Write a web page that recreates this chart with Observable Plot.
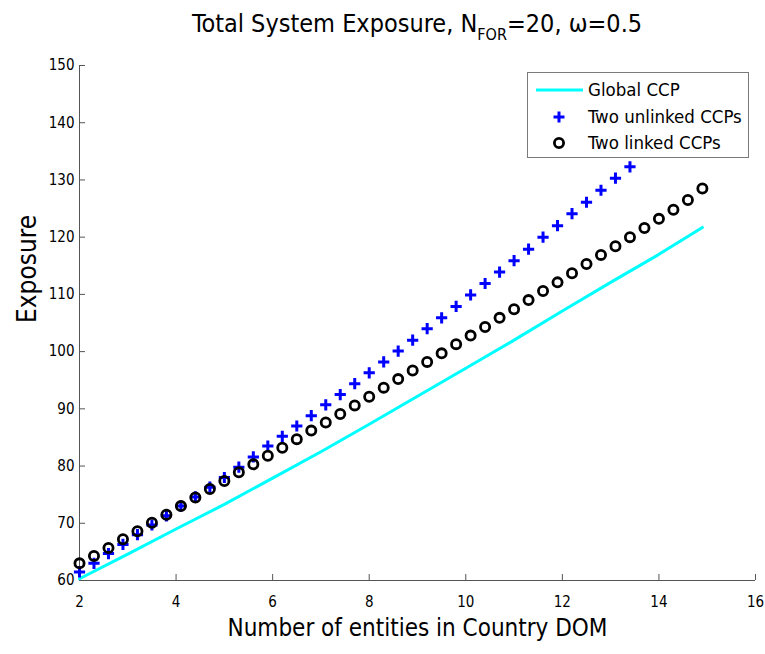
<!DOCTYPE html>
<html>
<head>
<meta charset="utf-8">
<script src="https://cdn.jsdelivr.net/npm/d3@7"></script>
<script src="https://cdn.jsdelivr.net/npm/@observablehq/plot@0.6"></script>
<style>
  body { margin: 0; background: #fff; }
  #wrap { position: relative; width: 765px; height: 654px; font-family: "Liberation Sans Narrow", "DejaVu Sans Condensed", "Liberation Sans", sans-serif; }
  #title { position: absolute; left: 79px; width: 676px; top: 9px; text-align: center; font-size: 25px; color: #000; white-space: nowrap; }
  #title sub { font-size: 16px; vertical-align: -8px; line-height: 0; }
  #legend { position: absolute; left: 527px; top: 72px; width: 220px; height: 84px; background: #fff; border: 1px solid #7a7a7a; }
  #legend svg { display: block; }
</style>
</head>
<body>
<div id="wrap">
  <div id="title">Total System Exposure, N<sub>FOR</sub>=20, ω=0.5</div>
</div>
<script>
// Data
const xMarkers = [2.0,2.3,2.6,2.9,3.2,3.5,3.8,4.1,4.4,4.7,5.0,5.3,5.6,5.9,6.2,6.5,6.8,7.1,7.4,7.7,8.0,8.3,8.6,8.9,9.2,9.5,9.8,10.1,10.4,10.7,11.0,11.3,11.6,11.9,12.2,12.5,12.8,13.1,13.4,13.7,14.0,14.3,14.6,14.9];
const linkedY = [63.0,64.3,65.7,67.2,68.6,70.1,71.5,73.0,74.5,76.0,77.4,78.9,80.3,81.8,83.2,84.7,86.2,87.6,89.1,90.6,92.1,93.7,95.2,96.7,98.2,99.7,101.3,102.8,104.3,105.9,107.4,109.0,110.6,112.1,113.7,115.3,116.9,118.4,120.0,121.6,123.2,124.8,126.5,128.5];
const unlinkedY = [61.5,63.0,64.7,66.3,68.0,69.7,71.3,73.0,74.6,76.3,78.0,79.8,81.6,83.5,85.2,87.0,88.8,90.7,92.5,94.4,96.3,98.2,100.1,102.0,104.0,105.9,107.9,109.9,111.9,113.9,115.9,117.9,120.0,122.0,124.1,126.1,128.2,130.3,132.3];
const globalX = [2,3,4,5,6,7,8,9,10,11,12,13,14,14.9];
const globalY = [60.3,64.6,69.0,73.3,77.9,82.5,87.3,92.2,97.1,102.0,107.1,112.1,117.0,121.7];
const xTicks = [2,4,6,8,10,12,14,16];
const yTicks = [60,70,80,90,100,110,120,130,140,150];
const seriesNames = ["Global CCP", "Two unlinked CCPs", "Two linked CCPs"];
const xLabel = "Number of entities in Country DOM";
const yLabel = "Exposure";

const linked = xMarkers.map((x, i) => ({x, y: linkedY[i]}));
const unlinked = unlinkedY.map((y, i) => ({x: xMarkers[i], y}));
const globalCCP = globalX.map((x, i) => ({x, y: globalY[i]}));

const W = 765, H = 654, mL = 79, mR = 10, mT = 65, mB = 74;
const fw = W - mL - mR, fh = H - mT - mB;
const font = '"Liberation Sans Narrow", "DejaVu Sans Condensed", "Liberation Sans", sans-serif';

const chart = Plot.plot({
  width: W, height: H,
  marginLeft: mL, marginRight: mR, marginTop: mT, marginBottom: mB,
  style: {fontFamily: font, background: "#fff", color: "#000"},
  x: {domain: [2, 16]},
  y: {domain: [60, 150]},
  marks: [
    Plot.ruleX([2], {stroke: "#555", strokeWidth: 1}),
    Plot.ruleY([60], {stroke: "#555", strokeWidth: 1}),
    Plot.tickX(xTicks, {x: d => d, insetTop: fh - 6, stroke: "#555"}),
    Plot.tickY(yTicks, {y: d => d, insetRight: fw - 6, stroke: "#555"}),
    Plot.axisX({ticks: xTicks, tickSize: 0, tickPadding: 16, fontSize: 15, label: null, tickFormat: d => String(d)}),
    Plot.axisY({ticks: yTicks, tickSize: 0, tickPadding: 5, fontSize: 15, label: null, tickFormat: d => String(d)}),
    Plot.line(globalCCP, {x: "x", y: "y", stroke: "#00ffff", strokeWidth: 3}),
    Plot.dot(unlinked, {x: "x", y: "y", symbol: "plus", r: 3.7, stroke: "#0000ff", strokeWidth: 3}),
    Plot.dot(linked, {x: "x", y: "y", symbol: "circle", r: 4.6, stroke: "#000", strokeWidth: 2.8, fill: "none"}),
    Plot.text([xLabel], {frameAnchor: "bottom", dy: 55, fontSize: 24, fill: "#000"}),
    Plot.text([yLabel], {frameAnchor: "left", dx: -52, rotate: -90, fontSize: 26, fill: "#000"})
  ]
});
document.getElementById("wrap").prepend(chart);

// Legend
const lg = document.createElement("div");
lg.id = "legend";
const svg = d3.create("svg").attr("width", 220).attr("height", 84)
  .style("font-family", font).style("font-size", "18.5px");
const rows = [17, 44, 70];
svg.append("line").attr("x1", 8).attr("x2", 55).attr("y1", rows[0]).attr("y2", rows[0]).attr("stroke", "#00ffff").attr("stroke-width", 3);
svg.append("path").attr("d", `M${31-5.5},${rows[1]}h11M31,${rows[1]-5.5}v11`).attr("stroke", "#0000ff").attr("stroke-width", 3).attr("fill", "none");
svg.append("circle").attr("cx", 31).attr("cy", rows[2]).attr("r", 4.6).attr("stroke", "#000").attr("stroke-width", 2.8).attr("fill", "none");
seriesNames.forEach((n, i) => {
  svg.append("text").attr("x", 60).attr("y", rows[i]).attr("dy", "0.35em").text(n);
});
lg.appendChild(svg.node());
document.getElementById("wrap").appendChild(lg);
</script>
</body>
</html>
